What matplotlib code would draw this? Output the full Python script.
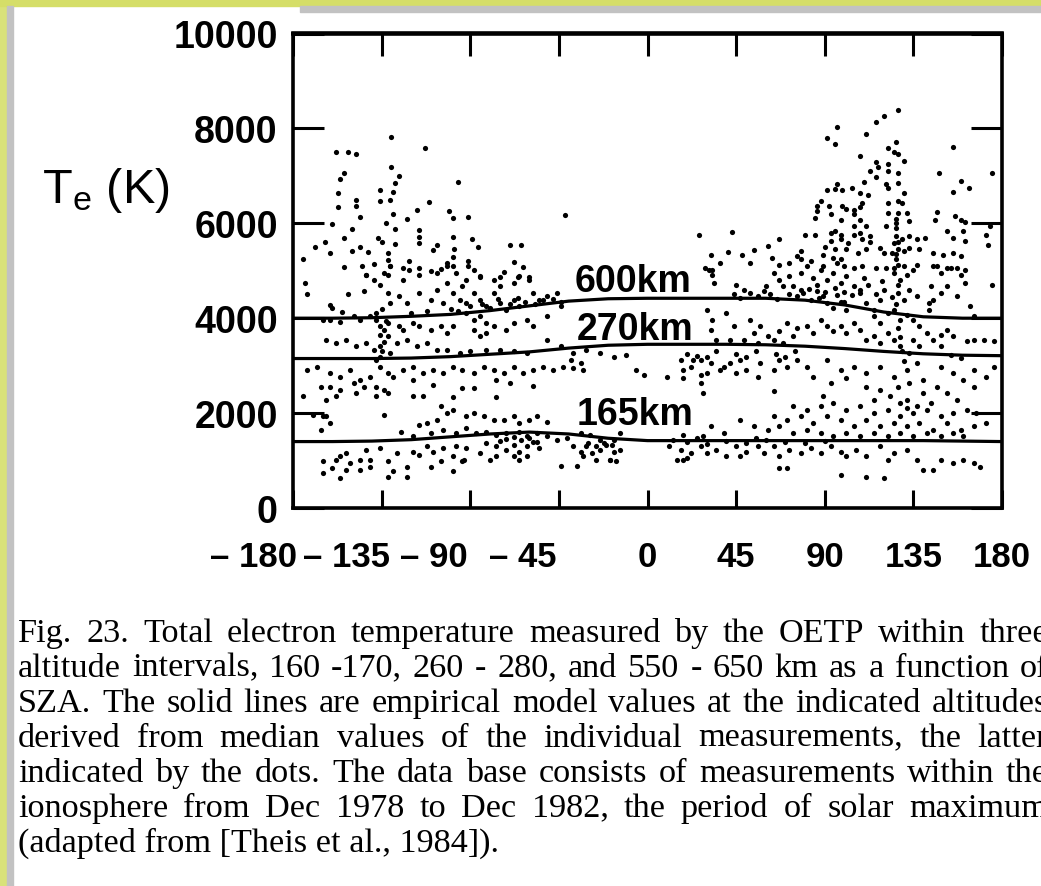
import matplotlib
matplotlib.use("Agg")
import matplotlib.pyplot as plt
import matplotlib.transforms as mtransforms
from matplotlib.patches import Rectangle

W, H = 1041, 887

# empirical model curves (solar zenith angle in deg, Te in K)
sza_model = [-180, -160, -140, -120, -100, -80, -60, -40, -20, 0,
             20, 40, 60, 80, 100, 120, 140, 160, 180]
te_600 = [4000, 4000, 4010, 4040, 4080, 4160, 4260, 4360, 4410, 4420,
          4420, 4420, 4420, 4380, 4280, 4130, 4030, 4000, 4000]
te_270 = [3150, 3150, 3150, 3160, 3190, 3240, 3290, 3370, 3430, 3450,
          3450, 3450, 3440, 3410, 3360, 3300, 3250, 3220, 3210]
te_165 = [1400, 1400, 1410, 1440, 1500, 1560, 1600, 1560, 1470, 1420,
          1420, 1420, 1420, 1420, 1420, 1420, 1420, 1410, 1400]

# individual OETP measurements, (sza, Te) pairs
dots_600 = [
    (-130, 7820), (-158, 7500), (-152, 7510), (-148, 7470), (-113, 7590), (-154, 7070),
    (-156, 6940), (-130, 7190), (-126, 6990), (-128, 6840), (-129, 6670), (-136, 6710),
    (-96, 6880), (-157, 6630), (-157, 6350), (-148, 6500), (-148, 6360), (-136, 6480),
    (-131, 6500), (-111, 6440), (-146, 6140), (-129, 6200), (-133, 6010), (-122, 6100),
    (-117, 6270), (-101, 6250), (-99, 6120), (-91, 6140), (-42, 6180), (-160, 5980),
    (-150, 5890), (-128, 5890), (-116, 5850), (-154, 5700), (-164, 5600), (-169, 5490),
    (-161, 5380), (-175, 5250), (-150, 5410), (-146, 5490), (-142, 5400), (-137, 5700),
    (-135, 5600), (-128, 5560), (-132, 5380), (-132, 5230), (-116, 5720), (-116, 5590),
    (-107, 5550), (-99, 5720), (-89, 5670), (-86, 5490), (-98, 5460), (-109, 5440),
    (-99, 5280), (-91, 5210), (-91, 5090), (-102, 5170), (-99, 5090), (-121, 5200),
    (-124, 5060), (-116, 5060), (-110, 4990), (-105, 5040), (-154, 5080), (-145, 5110),
    (-139, 5150), (-131, 5110), (-143, 4920), (-132, 4900), (-70, 5550), (-64, 5550),
    (-68, 5180), (-63, 5080), (-73, 4980), (-85, 4870), (-75, 4870), (-66, 4870), (-60, 4870),
    (127, 8385), (120, 8260), (116, 8140), (96, 8040), (91, 7800), (95, 7680), (111, 7890),
    (126, 7710), (122, 7580), (125, 7510), (127, 7450), (155, 7600), (108, 7420), (116, 7290),
    (117, 7190), (122, 7260), (122, 7100), (130, 7310), (113, 7100), (116, 6980), (127, 7060),
    (127, 6850), (175, 7050), (148, 7050), (159, 6890), (163, 6750), (155, 6660), (110, 6870),
    (96, 6830), (95, 6730), (99, 6710), (104, 6740), (108, 6640), (121, 6830), (122, 6750),
    (130, 6640), (112, 6590), (91, 6710), (88, 6470), (86, 6360), (92, 6360), (99, 6360),
    (101, 6300), (105, 6290), (108, 6350), (109, 6420), (122, 6430), (127, 6470), (129, 6430),
    (122, 6220), (127, 6220), (132, 6220), (86, 6260), (85, 6110), (93, 6190), (98, 6080),
    (105, 6190), (108, 6080), (105, 5940), (126, 6090), (126, 6010), (133, 6040), (147, 6230),
    (146, 6070), (156, 6160), (159, 6080), (161, 6020), (111, 5940), (121, 5950), (174, 5940),
    (172, 5760), (173, 5550), (152, 5830), (155, 5690), (160, 5830), (161, 5620), (141, 5690),
    (26, 5760), (43, 5820), (67, 5660), (61, 5530), (80, 5760), (85, 5760), (93, 5800),
    (95, 5830), (98, 5760), (105, 5760), (108, 5800), (109, 5660), (93, 5620), (98, 5660),
    (102, 5590), (113, 5730), (113, 5600), (126, 5730), (125, 5590), (129, 5660), (133, 5730),
    (137, 5660), (32, 5340), (41, 5390), (48, 5340), (54, 5430), (78, 5410), (76, 5310),
    (90, 5500), (95, 5450), (101, 5450), (107, 5380), (111, 5450), (89, 5340), (94, 5270),
    (98, 5240), (118, 5480), (120, 5380), (124, 5380), (127, 5450), (130, 5410), (133, 5480),
    (138, 5450), (126, 5240), (127, 5130), (145, 5380), (150, 5340), (155, 5380), (159, 5310),
    (52, 5170), (63, 5270), (67, 5130), (72, 5170), (78, 5240), (83, 5200), (89, 5100),
    (96, 5170), (100, 5100), (105, 5060), (109, 5100), (116, 5060), (121, 5060), (125, 5060),
    (130, 5100), (137, 5130), (147, 5100), (152, 5060), (157, 5060), (161, 5020), (29, 5060),
    (33, 5020),
    (31, 5020), (33, 4920), (37, 5160), (34, 4740), (45, 4710), (49, 4600), (52, 4530),
    (44, 4500), (47, 4420), (56, 4460), (59, 4570), (62, 4500), (64, 4950), (67, 4810),
    (72, 4880), (69, 4670), (74, 4670), (78, 4950), (81, 5090), (84, 4850), (88, 5020),
    (76, 4460), (79, 4530), (83, 4390), (86, 4570), (89, 4460), (91, 4810), (94, 4950),
    (98, 4740), (101, 4880), (105, 4670), (91, 4320), (94, 4210), (98, 4350), (101, 4180),
    (108, 4530), (111, 4320), (115, 4180), (118, 4390), (115, 4040), (118, 3900), (122, 4110),
    (125, 4180), (128, 3970), (132, 4070), (125, 4950), (128, 4810), (132, 4920), (135, 5020),
    (127, 4530), (130, 4390), (133, 4600), (137, 4460), (145, 5090), (149, 4950), (154, 5060),
    (159, 4920), (144, 4670), (149, 4530), (152, 4670), (157, 4460), (161, 4740), (175, 4710),
    (143, 4180), (143, 4320), (145, 4390), (164, 4250), (166, 4040),
    (82, 4620), (86, 4700), (90, 4560), (95, 4640), (100, 4560), (104, 4480), (108, 4600),
    (112, 4700), (116, 4520), (120, 4600), (124, 4450), (119, 4780), (110, 4850), (100, 4350),
    (96, 4480), (87, 4420), (78, 4600), (72, 4520), (66, 4400), (60, 4680),
    (126, 5900), (127, 5600), (126, 5350), (127, 4700), (126, 4300),
    (-174, 4740), (-173, 4500), (-161, 4280), (-160, 4210), (-155, 4140), (-152, 4500),
    (-144, 4570), (-143, 4920), (-139, 4810), (-136, 4710), (-132, 4530), (-131, 4320),
    (-126, 4460), (-122, 4320), (-134, 4950), (-131, 5090), (-124, 4810), (-121, 5020),
    (-116, 4920), (-116, 4530), (-110, 4390), (-107, 4600), (-104, 4320), (-102, 4740),
    (-99, 4530), (-95, 4390), (-94, 4670), (-92, 4320), (-88, 4530), (-85, 4390), (-82, 4250),
    (-78, 4530), (-75, 4320), (-72, 4180), (-68, 4390), (-65, 4250), (-78, 4810), (-75, 4670),
    (-68, 4740), (-65, 4880), (-60, 4810), (-107, 4950), (-102, 5090), (-97, 4950), (-92, 4810),
    (-88, 5020), (-85, 4880), (-58, 4530), (-55, 4390), (-51, 4460), (-46, 4530), (-44, 4250),
    (-149, 4040), (-146, 3970), (-141, 4040), (-138, 3970), (-161, 3970), (-156, 3930),
    (-165, 3970), (-138, 4110), (-136, 3830), (-134, 3760), (-132, 3900), (-126, 3830),
    (-124, 3760), (-119, 3900), (-116, 3830), (-110, 3760), (-105, 3830), (-102, 3690),
    (-99, 3830), (-92, 4110), (-88, 3970), (-85, 4040), (-82, 3900), (-78, 3830), (-72, 3760),
    (-68, 3900), (-61, 3970), (-58, 3830), (-51, 4040),
    (-100, 4200), (-96, 4150), (-90, 4250), (-84, 4300), (-80, 4220), (-76, 4400), (-70, 4300),
    (-66, 4420), (-62, 4350), (-57, 4300), (-53, 4380), (-48, 4400), (-44, 4350), (-112, 4150),
    (-120, 4100), (-135, 4200), (-133, 3950),
]

dots_270 = [
    (-163, 3550), (-158, 3480), (-153, 3550), (-148, 3410), (-143, 3480), (-139, 3340),
    (-136, 3410), (-132, 3620), (-127, 3480), (-122, 3550), (-117, 3410), (-112, 3480),
    (-107, 3340), (-136, 3190), (-131, 3270), (-138, 3120), (-102, 3340), (-95, 3270),
    (-90, 3300), (-82, 3340), (-75, 3340), (-68, 3300), (-61, 3270), (-88, 3760), (-85, 3620),
    (-82, 3690), (-51, 3550), (-44, 3410), (-38, 3270), (-31, 3340), (-24, 3270), (-17, 3190),
    (-11, 3230), (-39, 3120), (-34, 3050), (-6, 2910), (-2, 2810),
    (-135, 3300), (-134, 3500), (-136, 3650),
    (-173, 2910), (-168, 2980), (-161, 2840), (-156, 2770), (-151, 2910), (-146, 2700),
    (-141, 2770), (-136, 2980), (-132, 2840), (-129, 2770), (-166, 2560), (-161, 2560),
    (-156, 2490), (-149, 2630), (-144, 2560), (-138, 2560), (-134, 2490), (-175, 2350),
    (-163, 2280), (-158, 2350), (-148, 2420), (-138, 2350), (-132, 2420), (-124, 2910),
    (-119, 2980), (-114, 2840), (-109, 2910), (-104, 2840), (-99, 2980), (-94, 2910),
    (-88, 2840), (-83, 2980), (-78, 2910), (-73, 2840), (-68, 2980), (-63, 2840), (-58, 2910),
    (-53, 2980), (-48, 2910), (-43, 2980), (-38, 2950), (-33, 2910), (-119, 2700), (-109, 2600),
    (-94, 2530), (-88, 2530), (-77, 2700), (-58, 2580), (-70, 2630), (-119, 2370), (-114, 2350),
    (-99, 2340), (-77, 2340),
    (30, 4180), (33, 3970), (32, 3760), (35, 3550), (40, 4110), (44, 3830), (42, 3550),
    (52, 3970), (57, 3830), (54, 3690), (61, 3620), (49, 3550), (56, 3480), (71, 3900),
    (76, 3790), (67, 3720), (74, 3620), (64, 3550), (69, 3480), (88, 3970), (91, 3830),
    (94, 3720), (84, 3690), (81, 3830), (105, 3900), (108, 3760), (111, 3550), (101, 3690),
    (98, 3830), (122, 3690), (125, 3550), (128, 3410), (115, 3620), (118, 3480), (135, 3970),
    (138, 3830), (142, 3690), (145, 3550), (149, 3410), (154, 3230), (159, 3160), (152, 3760),
    (155, 3620), (149, 3650), (162, 3510), (166, 3550), (171, 3550), (176, 3510), (135, 3550),
    (138, 3410), (133, 3270), (127, 3800), (128, 3600), (129, 3300), (130, 3100),
    (17, 3120), (22, 2980), (27, 3120), (32, 3050), (37, 2910), (42, 3050), (47, 3120),
    (18, 2910), (23, 3120), (30, 2840), (39, 2980), (45, 2840), (50, 2910), (56, 2770),
    (57, 3050), (64, 2910), (67, 3120), (71, 2980), (76, 3120), (81, 2980), (10, 2770),
    (18, 2740), (27, 2810), (84, 2770), (91, 3120), (98, 2910), (105, 2980), (111, 2840),
    (118, 2980), (125, 2770), (132, 2910), (137, 3050), (140, 2700), (149, 2980), (155, 2840),
    (160, 2700), (166, 2910), (172, 2770), (176, 2980), (111, 2560), (118, 2490), (127, 2560),
    (133, 2630), (140, 2420), (147, 2560), (115, 2280), (123, 2350), (132, 2280), (144, 2210),
    (152, 2420), (157, 2280), (166, 2560), (27, 2630), (28, 2420), (64, 2460), (93, 2630),
    (101, 2740), (128, 2210), (132, 2110), (137, 2140), (89, 2370),
    (20, 3250), (25, 3200), (35, 3300), (45, 3250), (55, 3300), (65, 3250), (75, 3300),
    (30, 3180), (50, 3180), (70, 3190),
]

dots_165 = [
    (74, 2140), (81, 2070), (88, 2140), (94, 2210), (101, 2070), (108, 2140), (115, 2000),
    (122, 2070), (128, 1930), (135, 2000), (142, 2070), (149, 1930), (155, 2000), (162, 2070),
    (167, 2000), (64, 1930), (71, 1860), (78, 1930), (84, 1790), (91, 1930), (98, 1860),
    (105, 1720), (111, 1860), (118, 1720), (125, 1790), (132, 1720), (138, 1790), (145, 1650),
    (152, 1790), (159, 1650), (166, 1720), (172, 1790), (47, 1860), (54, 1720), (61, 1650),
    (67, 1720), (74, 1580), (81, 1650), (88, 1580), (94, 1510), (101, 1580), (108, 1510),
    (115, 1580), (122, 1510), (128, 1580), (135, 1510), (142, 1580), (149, 1510), (155, 1580),
    (160, 1510), (32, 1720), (39, 1580), (28, 1510), (18, 1540), (13, 1440),
    (11, 1300), (17, 1230), (22, 1160), (15, 1020), (20, 1050), (27, 1300), (30, 1160),
    (35, 1230), (40, 1090), (45, 1300), (47, 1090), (50, 1190), (56, 1300), (59, 1160),
    (64, 1300), (67, 1090), (72, 1230), (78, 1160), (83, 1260), (88, 1160), (93, 1300),
    (98, 1190), (101, 1090), (106, 1230), (111, 1090), (118, 1300), (122, 1020), (125, 1160),
    (132, 1230), (137, 1020), (140, 800), (145, 800), (149, 1020), (155, 950), (160, 1020),
    (166, 950), (169, 870), (98, 700), (111, 660), (120, 630), (67, 840), (71, 840), (18, 1020),
    (20, 1400), (30, 1350), (40, 1420), (50, 1380), (60, 1430), (70, 1400), (80, 1380),
    (90, 1420), (25, 1480), (55, 1480),
    (-165, 1930), (-161, 1790), (-166, 1650), (-163, 1930), (-170, 1960), (-134, 1960),
    (-116, 1750), (-112, 1790), (-107, 1860), (-105, 2140), (-102, 2000), (-99, 2070),
    (-92, 1930), (-88, 2000), (-83, 1930), (-78, 1860), (-73, 1860), (-68, 1930), (-65, 1790),
    (-60, 1860), (-56, 1930), (-51, 1820), (-125, 1610), (-119, 1510), (-110, 1580),
    (-104, 1650), (-97, 1580), (-92, 1680), (-87, 1580), (-82, 1610), (-77, 1540), (-72, 1580),
    (-65, 1610), (-61, 1510), (-56, 1580), (-51, 1510), (-46, 1440), (-41, 1470), (-34, 1580),
    (-29, 1540), (-24, 1440), (-17, 1440), (-14, 1580),
    (-82, 1370), (-77, 1300), (-72, 1230), (-68, 1330), (-65, 1190), (-61, 1300), (-58, 1400),
    (-55, 1260), (-68, 1090), (-61, 1090), (-77, 1090), (-65, 1020),
    (-72, 1450), (-68, 1500), (-64, 1430), (-60, 1480), (-56, 1400), (-75, 1420),
    (-38, 1300), (-34, 1190), (-31, 1300), (-28, 1160), (-24, 1230), (-21, 1330), (-17, 1190),
    (-14, 1230), (-33, 1090), (-26, 1020), (-19, 1020),
    (-30, 1380), (-26, 1300), (-22, 1380), (-18, 1330),
    (-165, 980), (-158, 1020), (-156, 1090), (-153, 1160), (-151, 950), (-146, 1020),
    (-141, 1020), (-165, 730), (-156, 630), (-132, 980), (-132, 660), (-122, 870), (-122, 660),
    (-129, 770), (-160, 840), (-153, 800), (-146, 800), (-141, 870),
    (-116, 1120), (-110, 870), (-105, 980), (-99, 1090), (-94, 980), (-109, 1190), (-104, 1260),
    (-93, 1020), (-97, 1300), (-136, 1260), (-143, 1230), (-119, 1190), (-112, 1300), (-99, 770),
    (-85, 1160), (-80, 1020), (-92, 1260), (-127, 1160), (-44, 890), (-36, 890), (-19, 1020),
    (-16, 980),
]

x_ticks = [-180, -135, -90, -45, 0, 45, 90, 135, 180]
x_labels = ["\u2013 180", "\u2013 135", "\u2013 90", "\u2013 45", "0", "45", "90", "135", "180"]
y_ticks = [0, 2000, 4000, 6000, 8000, 10000]

caption = [
    "Fig. 23.  Total electron temperature measured by the OETP within three",
    "altitude intervals, 160 -170, 260 - 280, and 550 - 650 km as a function of",
    "SZA.  The solid lines are empirical model values at the indicated altitudes",
    "derived from median values of the individual measurements, the latter",
    "indicated by the dots.  The data base consists of measurements within the",
    "ionosphere from Dec 1978 to Dec 1982, the period of solar maximum",
    "(adapted from [Theis et al., 1984]).",
]

fig = plt.figure(figsize=(W / 100, H / 100), dpi=100)
fig.patch.set_facecolor("white")

# page frame: yellow margin and grey shadow
fig.patches.append(Rectangle((0, 0), 7 / W, 1, transform=fig.transFigure,
                             color="#d9e27a", zorder=0))
fig.patches.append(Rectangle((0, 1 - 7 / H), 1, 7 / H, transform=fig.transFigure,
                             color="#d5de68", zorder=0))
fig.patches.append(Rectangle((7 / W, 0), 6 / W, 1 - 7 / H, transform=fig.transFigure,
                             color="#c2c2c2", zorder=0))
fig.patches.append(Rectangle((300 / W, 1 - 13 / H), 1, 6 / H, transform=fig.transFigure,
                             color="#c2c2c2", zorder=0))

ax = fig.add_axes([293 / W, 1 - 509 / H, 709 / W, 474.5 / H])
ax.set_xlim(-180, 180)
ax.set_ylim(0, 10000)

for band in (dots_600, dots_270, dots_165):
    sx, sy = zip(*band)
    ax.scatter(sx, sy, s=14, color="black", linewidths=0, zorder=2)

for te in (te_600, te_270, te_165):
    ax.plot(sza_model, te, color="black", lw=2.3, zorder=3)

lab_kw = dict(fontfamily="Liberation Sans", fontweight="bold", fontsize=27, va="baseline")
ax.text(-36.8, 4570, "600km", **lab_kw)
ax.text(-35.8, 3560, "270km", **lab_kw)
ax.text(-35.8, 1760, "165km", **lab_kw)

for s in ax.spines.values():
    s.set_linewidth(2.6)

ax.set_yticks(y_ticks)
ax.set_yticklabels([str(v) for v in y_ticks])
ax.tick_params(axis="y", direction="in", length=22, width=2.2, left=True, right=True,
               pad=11, labelsize=27)
for t in ax.get_yticklabels():
    t.set_fontfamily("Liberation Sans")
    t.set_fontweight("bold")

ax.set_xticks(x_ticks)
ax.set_xticklabels(x_labels)
ax.tick_params(axis="x", direction="in", length=13, width=2.2, bottom=True, top=False,
               pad=23, labelsize=25)
# negative labels are set flush right, ending a little past their tick
neg_shift_px = {-180: 4, -135: 8, -90: -3, -45: -2}
for t, v in zip(ax.get_xticklabels(), x_ticks):
    t.set_fontfamily("Liberation Sans")
    t.set_fontweight("bold")
    if v in neg_shift_px:
        t.set_horizontalalignment("right")
        t.set_transform(t.get_transform() + mtransforms.ScaledTranslation(
            neg_shift_px[v] / 100, 0, fig.dpi_scale_trans))

top = ax.secondary_xaxis("top")
top.set_xticks(x_ticks)
top.set_xticklabels([])
top.tick_params(direction="in", length=16.5, width=2.2)
top.spines["top"].set_linewidth(2.6)

fig.text(42 / W, 1 - 203 / H, r"$\mathregular{T_e}$ (K)", fontfamily="Liberation Sans",
         fontsize=35, va="baseline", ha="left")

# justified caption, lines run past the right edge of the page
renderer = fig.canvas.get_renderer()
cap_kw = dict(fontfamily="Liberation Serif", fontsize=24.7, va="baseline", ha="left")
left_px, right_px = 18, 1048
for i, line in enumerate(caption):
    yf = 1 - (641.7 + i * 35.0) / H
    if i == len(caption) - 1:
        fig.text(left_px / W, yf, line, **cap_kw)
        continue
    words = line.split()
    arts = [fig.text(0, yf, w, **cap_kw) for w in words]
    widths = [a.get_window_extent(renderer).width for a in arts]
    gap = (right_px - left_px - sum(widths)) / (len(words) - 1)
    x = left_px
    for a, w in zip(arts, widths):
        a.set_x(x / W)
        x += w + gap

fig.savefig("out.png", dpi=100)
